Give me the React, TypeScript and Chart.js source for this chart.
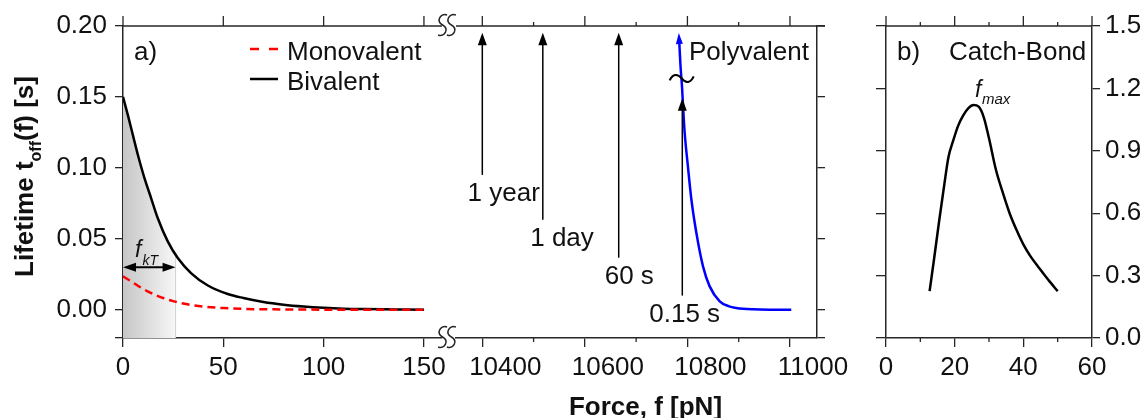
import React, { useEffect, useRef } from 'react';
import { Chart, registerables } from 'chart.js';

Chart.register(...registerables);

const W = 1144;
const H = 418;
const FONT = "'Liberation Sans', Arial, Helvetica, sans-serif";
const AXIS = '#262626';
const TEXT = '#111111';

// ---------- Panel a) : mono- and bivalent ----------
const bivalentForce = [0, 2.4, 4.9, 7.4, 10.7, 14, 17.3, 22.3, 27.3, 33.9, 42.3, 52.2, 60, 70, 80, 90, 100, 110, 120, 130, 140, 150];
const bivalentLifetime = [0.150, 0.1373, 0.1232, 0.1092, 0.0927, 0.0787, 0.0646, 0.0481, 0.0364, 0.0258, 0.0170, 0.0110, 0.0082, 0.0054, 0.0035, 0.0022, 0.0013, 0.0007, 0.0004, 0.0002, 0.0001, 0];
const monovalentForce = [0, 4, 8, 12, 16, 20, 25, 30, 35, 40, 50, 60, 75, 100, 150];
const monovalentLifetime = [0.0235, 0.0200, 0.0163, 0.0131, 0.0104, 0.0082, 0.0060, 0.0043, 0.0031, 0.0022, 0.0011, 0.0005, 0.0002, 0, 0];
const shadeForce = [0, 2.4, 4.9, 7.4, 10.7, 14, 17.3, 22.3, 26.2];
const shadeLifetime = [0.150, 0.1373, 0.1232, 0.1092, 0.0927, 0.0787, 0.0646, 0.0481, 0.0389];
const fkTForce = 26.2;
const fkTLevel = 0.0298;
const aXTicks = [0, 50, 100, 150];
const aYTicks = [-0.02, 0, 0.05, 0.1, 0.15, 0.2];

// ---------- Middle : polyvalent ----------
const polyForce = [10784.2, 10786.5, 10789.5, 10792, 10794.7, 10801, 10807.8, 10817.5, 10830.4, 10843.4, 10863, 10880, 10895.4, 10928, 10960, 11002.5];
const polyLifetime = [0.188, 0.172, 0.157, 0.140, 0.1244, 0.1009, 0.0775, 0.054, 0.0305, 0.0164, 0.0058, 0.0025, 0.0012, 0.0002, 0, 0];
const midMajorTicks = [10400, 10600, 10800, 11000];
const midMinorTicks = [10500, 10700, 10900];
const midYTicks = [-0.02, 0, 0.05, 0.1, 0.15, 0.2];
const arrowForces = [10400, 10518, 10666, 10790];
const arrowFrom = [0.095, 0.0634, 0.0366, 0.0099];
const arrowTo = [0.1953, 0.1953, 0.1953, 0.149];
const arrowLabels = ['1 year', '1 day', '60 s', '0.15 s'];
const breakForce = 10788.8;
const breakLevel = 0.163;

// ---------- Panel b) : catch bond ----------
const catchForce = [12.7, 14, 15.5, 17, 18.2, 19.5, 21, 22.5, 24, 25.5, 27, 28.5, 30, 32, 34, 36, 38, 40, 42, 44, 46, 48, 50];
const catchLifetime = [0.225, 0.38, 0.565, 0.74, 0.87, 0.945, 1.02, 1.07, 1.105, 1.12, 1.112, 1.06, 0.96, 0.81, 0.70, 0.60, 0.52, 0.45, 0.395, 0.35, 0.307, 0.265, 0.225];
const bXTicks = [0, 20, 40, 60];
const bXMinor = [10, 30, 50];
const bYTicks = [0, 0.3, 0.6, 0.9, 1.2, 1.5];

// ---------- layout constants ----------
const TOP = 26;
const BOTTOM = 338;
const A_LEFT = 123;
const A_RIGHT = 442;
const M_LEFT = 456;
const M_RIGHT = 817;
const B_LEFT = 886;
const B_RIGHT = 1092;
const ARROW_LABEL_DX = [-14.7, -12.6, -14, -33];

const pts = (xs: number[], ys: number[]) => xs.map((x, i) => ({ x, y: ys[i] }));
const ticksOf = (vals: number[]) => (s: any) => {
  s.ticks = vals.map((v) => ({ value: v }));
};

function seg(ctx: CanvasRenderingContext2D, x1: number, y1: number, x2: number, y2: number, color = AXIS, w = 1.3) {
  ctx.save();
  ctx.strokeStyle = color;
  ctx.lineWidth = w;
  ctx.beginPath();
  ctx.moveTo(x1, y1);
  ctx.lineTo(x2, y2);
  ctx.stroke();
  ctx.restore();
}

function head(ctx: CanvasRenderingContext2D, tipX: number, tipY: number, fromX: number, fromY: number, len: number, half: number, color: string) {
  const dx = tipX - fromX;
  const dy = tipY - fromY;
  const d = Math.hypot(dx, dy) || 1;
  const ux = dx / d;
  const uy = dy / d;
  const bx = tipX - ux * len;
  const by = tipY - uy * len;
  ctx.save();
  ctx.fillStyle = color;
  ctx.beginPath();
  ctx.moveTo(tipX, tipY);
  ctx.lineTo(bx - uy * half, by + ux * half);
  ctx.lineTo(bx + uy * half, by - ux * half);
  ctx.closePath();
  ctx.fill();
  ctx.restore();
}

function txt(ctx: CanvasRenderingContext2D, s: string, x: number, y: number, size: number, o: { align?: CanvasTextAlign; weight?: string; style?: string; color?: string } = {}) {
  ctx.save();
  ctx.font = `${o.style || 'normal'} ${o.weight || 'normal'} ${size}px ${FONT}`;
  ctx.fillStyle = o.color || TEXT;
  ctx.textAlign = o.align || 'left';
  ctx.textBaseline = 'alphabetic';
  ctx.fillText(s, x, y);
  const w = ctx.measureText(s).width;
  ctx.restore();
  return w;
}

function breakMark(ctx: CanvasRenderingContext2D, cx: number, cy: number) {
  ctx.save();
  ctx.strokeStyle = AXIS;
  ctx.lineWidth = 1.5;
  for (const dx of [-4.4, 4.4]) {
    const x = cx + dx;
    ctx.beginPath();
    ctx.moveTo(x + 4.5, cy - 10);
    ctx.bezierCurveTo(x - 2, cy - 12.5, x - 7, cy - 4, x, cy);
    ctx.bezierCurveTo(x + 7, cy + 4, x + 2, cy + 12.5, x - 4.5, cy + 10);
    ctx.stroke();
  }
  ctx.restore();
}

function xScale(min: number, max: number, ticks: number[], labelOffset = 0) {
  return {
    type: 'linear' as const,
    min,
    max,
    afterBuildTicks: ticksOf(ticks),
    afterFit: (s: any) => {
      s.height = H - BOTTOM;
      s.paddingLeft = 0;
      s.paddingRight = 0;
    },
    ticks: {
      font: { size: 26, family: FONT },
      color: TEXT,
      padding: 5,
      maxRotation: 0,
      minRotation: 0,
      autoSkip: false,
      labelOffset,
      callback: (v: any) => String(v),
    },
    grid: { display: true, drawOnChartArea: false, drawTicks: true, tickLength: 9, color: AXIS, tickColor: AXIS, tickWidth: 1.3, lineWidth: 1.3 },
    border: { display: true, color: AXIS, width: 1.5 },
  };
}

function yScale(min: number, max: number, ticks: number[], position: 'left' | 'right', width: number, tickLength: number, labels: ((v: number) => string) | null, padding: number) {
  return {
    type: 'linear' as const,
    position,
    min,
    max,
    afterBuildTicks: ticksOf(ticks),
    afterFit: (s: any) => {
      s.width = width;
      s.paddingTop = 0;
      s.paddingBottom = 0;
    },
    ticks: {
      display: labels !== null,
      font: { size: 26, family: FONT },
      color: TEXT,
      padding,
      autoSkip: false,
      callback: (v: any) => (labels ? labels(Number(v)) : ''),
    },
    grid: { display: true, drawOnChartArea: false, drawTicks: true, tickLength, color: AXIS, tickColor: AXIS, tickWidth: 1.3, lineWidth: 1.3 },
    border: { display: true, color: AXIS, width: 1.5 },
  };
}

const baseOptions = (padding: any) => ({
  responsive: false,
  animation: false as const,
  events: [] as any[],
  layout: { padding },
  elements: { point: { radius: 0 } },
  plugins: { legend: { display: false }, tooltip: { enabled: false }, title: { display: false } },
});

function configA(): any {
  const framePlugin = {
    id: 'frameA',
    afterDraw(chart: any) {
      const { ctx, chartArea: a, scales } = chart;
      const x = scales.x;
      const y = scales.y;
      seg(ctx, a.left, a.top, a.right, a.top, AXIS, 1.5);
      for (const v of aXTicks) {
        const px = x.getPixelForValue(v);
        seg(ctx, px, a.top, px, a.top - 10);
      }
      breakMark(ctx, 447, a.top - 1);
      breakMark(ctx, 447, a.bottom - 1);

      // f_kT double arrow
      const ya = y.getPixelForValue(fkTLevel);
      const x0 = x.getPixelForValue(0);
      const x1 = x.getPixelForValue(fkTForce);
      seg(ctx, x0 + 8, ya, x1 - 8, ya, '#000', 2);
      head(ctx, x0, ya, x0 + 10, ya, 13, 4.5, '#000');
      head(ctx, x1, ya, x1 - 10, ya, 13, 4.5, '#000');
      txt(ctx, 'f', 135, 256.5, 23, { style: 'italic' });
      txt(ctx, 'kT', 142.5, 265, 14, { style: 'italic' });

      // panel label and legend
      txt(ctx, 'a)', 134, 60, 26);
      ctx.save();
      ctx.strokeStyle = '#ff0000';
      ctx.lineWidth = 2.5;
      ctx.beginPath();
      ctx.moveTo(250, 49);
      ctx.lineTo(259, 49);
      ctx.moveTo(269, 49);
      ctx.lineTo(278, 49);
      ctx.stroke();
      ctx.restore();
      seg(ctx, 250, 79, 278, 79, '#000', 2.5);
      txt(ctx, 'Monovalent', 287, 60, 26);
      txt(ctx, 'Bivalent', 287, 89.5, 26);

      // y-axis title with subscript
      ctx.save();
      ctx.translate(33, 277);
      ctx.rotate(-Math.PI / 2);
      const w1 = txt(ctx, 'Lifetime t', 0, 0, 26, { weight: 'bold' });
      const w2 = txt(ctx, 'off', w1, 8, 16, { weight: 'bold' });
      txt(ctx, '(f) [s]', w1 + w2, 0, 26, { weight: 'bold' });
      ctx.restore();
    },
  };

  const gradient = (c: any) => {
    const chart = c.chart;
    if (!chart.chartArea) return 'rgba(0,0,0,0)';
    const xs = chart.scales.x;
    const g = chart.ctx.createLinearGradient(xs.getPixelForValue(0), 0, xs.getPixelForValue(fkTForce), 0);
    g.addColorStop(0, '#c6c6c6');
    g.addColorStop(1, '#f7f7f7');
    return g;
  };

  return {
    type: 'line',
    data: {
      datasets: [
        { data: pts(shadeForce, shadeLifetime), borderWidth: 0, borderColor: 'rgba(0,0,0,0)', fill: 'start', backgroundColor: gradient, cubicInterpolationMode: 'monotone', order: 10 },
        { data: [{ x: fkTForce, y: -0.02 }, { x: fkTForce, y: shadeLifetime[shadeLifetime.length - 1] }], borderColor: '#d2d2d2', borderWidth: 1, fill: false, order: 9 },
        { data: pts(bivalentForce, bivalentLifetime), borderColor: '#000000', borderWidth: 2.5, fill: false, cubicInterpolationMode: 'monotone', order: 2 },
        { data: pts(monovalentForce, monovalentLifetime), borderColor: '#ff0000', borderWidth: 2.5, borderDash: [8, 5], fill: false, cubicInterpolationMode: 'monotone', order: 1 },
      ],
    },
    options: {
      ...baseOptions({ left: 0, top: TOP, right: W - A_RIGHT, bottom: 0 }),
      scales: {
        x: xScale(0, 159, aXTicks),
        y: yScale(-0.02, 0.2, aYTicks, 'left', A_LEFT, 8, (v) => (v < 0 ? '' : v.toFixed(2)), 8),
      },
    },
    plugins: [framePlugin],
  };
}

function configM(): any {
  const framePlugin = {
    id: 'frameM',
    afterDraw(chart: any) {
      const { ctx, chartArea: a, scales } = chart;
      const x = scales.x;
      const y = scales.y;
      seg(ctx, a.left, a.top, a.right + 8, a.top, AXIS, 1.5);
      for (const v of midMajorTicks) {
        const px = x.getPixelForValue(v);
        seg(ctx, px, a.top, px, a.top - 10);
      }
      for (const v of midMinorTicks) {
        const px = x.getPixelForValue(v);
        seg(ctx, px, a.top, px, a.top - 4);
        seg(ctx, px, a.bottom, px, a.bottom + 4);
      }
      // lifetime arrows
      arrowForces.forEach((f, i) => {
        const px = x.getPixelForValue(f);
        const y1 = y.getPixelForValue(arrowFrom[i]);
        const y2 = y.getPixelForValue(arrowTo[i]);
        seg(ctx, px, y1, px, y2 + 8, '#000', 1.5);
        head(ctx, px, y2, px, y1, 12.5, 4.5, '#000');
        txt(ctx, arrowLabels[i], px + ARROW_LABEL_DX[i], y1 + 26, 26);
      });
      // arrow head on polyvalent curve
      const p0x = x.getPixelForValue(polyForce[0]);
      const p0y = y.getPixelForValue(polyLifetime[0]);
      const p1x = x.getPixelForValue(polyForce[1]);
      const p1y = y.getPixelForValue(polyLifetime[1]);
      const d = Math.hypot(p0x - p1x, p0y - p1y) || 1;
      const tx = p0x + ((p0x - p1x) / d) * 10;
      const ty = p0y + ((p0y - p1y) / d) * 10;
      head(ctx, tx, ty, p0x, p0y, 11, 3.5, '#0000ff');
      // axis-break tilde on the curve
      const bx = x.getPixelForValue(breakForce);
      const by = y.getPixelForValue(breakLevel);
      ctx.save();
      ctx.strokeStyle = '#000';
      ctx.lineWidth = 2;
      ctx.beginPath();
      ctx.moveTo(bx - 12, by + 2);
      ctx.bezierCurveTo(bx - 9, by - 5, bx - 4, by - 5, bx, by);
      ctx.bezierCurveTo(bx + 4, by + 5, bx + 9, by + 5, bx + 12, by - 2);
      ctx.stroke();
      ctx.restore();

      txt(ctx, 'Polyvalent', 689, 59.5, 26);
      txt(ctx, 'Force, f [pN]', 645.5, 415, 26, { weight: 'bold', align: 'center' });
    },
  };
  return {
    type: 'line',
    data: {
      datasets: [
        { data: pts(polyForce, polyLifetime), borderColor: '#0000ff', borderWidth: 2.5, fill: false, cubicInterpolationMode: 'monotone' },
      ],
    },
    options: {
      ...baseOptions({ left: M_LEFT, top: TOP, right: 0, bottom: 0 }),
      scales: {
        x: xScale(10348.7, 11052.7, midMajorTicks, 23),
        y: yScale(-0.02, 0.2, midYTicks, 'right', W - M_RIGHT, 8, null, 0),
      },
    },
    plugins: [framePlugin],
  };
}

function configB(): any {
  const framePlugin = {
    id: 'frameB',
    afterDraw(chart: any) {
      const { ctx, chartArea: a, scales } = chart;
      const x = scales.x;
      seg(ctx, a.left, a.top, a.right, a.top, AXIS, 1.5);
      for (const v of bXTicks) {
        const px = x.getPixelForValue(v);
        seg(ctx, px, a.top, px, a.top - 10);
      }
      for (const v of bXMinor) {
        const px = x.getPixelForValue(v);
        seg(ctx, px, a.top, px, a.top - 4);
        seg(ctx, px, a.bottom, px, a.bottom + 4);
      }
      txt(ctx, 'b)', 897, 60, 26);
      txt(ctx, 'Catch-Bond', 949, 60, 26);
      txt(ctx, 'f', 975, 96.5, 23, { style: 'italic' });
      txt(ctx, 'max', 982, 104, 15, { style: 'italic' });
    },
  };
  return {
    type: 'line',
    data: {
      datasets: [
        { data: pts(catchForce, catchLifetime), borderColor: '#000000', borderWidth: 2.5, fill: false, cubicInterpolationMode: 'monotone' },
      ],
    },
    options: {
      ...baseOptions({ left: 0, top: TOP, right: 0, bottom: 0 }),
      scales: {
        x: xScale(0, 60, bXTicks),
        y: yScale(0, 1.5, bYTicks, 'left', B_LEFT, 10, null, 0),
        y2: yScale(0, 1.5, bYTicks, 'right', W - B_RIGHT, 8, (v) => v.toFixed(1), 5),
      },
    },
    plugins: [framePlugin],
  };
}

export default function App() {
  const r1 = useRef<HTMLCanvasElement>(null);
  const r2 = useRef<HTMLCanvasElement>(null);
  const r3 = useRef<HTMLCanvasElement>(null);

  useEffect(() => {
    Chart.defaults.font.family = FONT;
    Chart.defaults.color = TEXT;
    const c1 = new Chart(r1.current as HTMLCanvasElement, configA());
    const c2 = new Chart(r2.current as HTMLCanvasElement, configM());
    const c3 = new Chart(r3.current as HTMLCanvasElement, configB());
    return () => {
      c1.destroy();
      c2.destroy();
      c3.destroy();
    };
  }, []);

  const cs: React.CSSProperties = { position: 'absolute', left: 0, top: 0, width: W, height: H, display: 'block' };
  return (
    <div style={{ position: 'absolute', left: 0, top: 0, width: W, height: H, background: '#ffffff', overflow: 'hidden' }}>
      <canvas ref={r1} width={W} height={H} style={cs} />
      <canvas ref={r2} width={W} height={H} style={cs} />
      <canvas ref={r3} width={W} height={H} style={cs} />
    </div>
  );
}
